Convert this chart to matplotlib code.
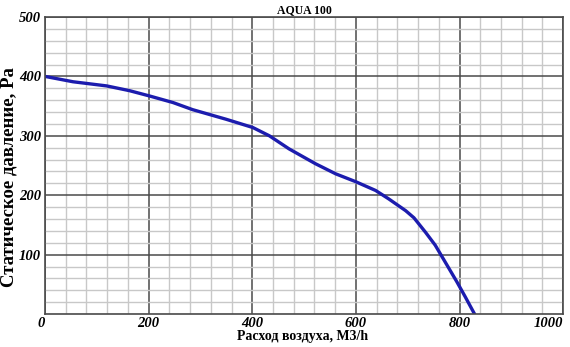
import matplotlib
matplotlib.use("Agg")
import matplotlib.pyplot as plt
from matplotlib.ticker import MultipleLocator

# Fan performance curve: air flow (m3/h) vs static pressure (Pa)
flow = [0, 54, 119, 163, 202, 247, 285, 349, 401, 433, 471, 522, 561, 599,
        638, 663, 696, 712, 734, 753, 772, 795, 811, 829]
pressure = [400, 391, 384, 376, 367, 356, 344, 328, 314, 300, 278, 253, 236, 223,
            208, 194, 174, 162, 138, 116, 88, 54, 29, 0]

x_ticks = [0, 200, 400, 600, 800, 1000]
y_ticks = [100, 200, 300, 400, 500]

title = "AQUA 100"
x_label = "Расход воздуха, M3/h"
y_label = "Статическое давление, Pa"

serif = ["Liberation Serif", "DejaVu Serif"]

fig = plt.figure(figsize=(5.7, 3.47), dpi=100)
ax = fig.add_axes([0.079, 0.095, 0.909, 0.856])

ax.set_xlim(0, 1000)
ax.set_ylim(0, 500)

ax.xaxis.set_minor_locator(MultipleLocator(40))
ax.yaxis.set_minor_locator(MultipleLocator(20))
ax.set_xticks(x_ticks)
ax.set_yticks(y_ticks)

ax.grid(which="minor", color="#c8c8c8", linewidth=1.0)
ax.grid(which="major", color="#4a4a4a", linewidth=1.1)
ax.set_axisbelow(True)

for s in ax.spines.values():
    s.set_color("#4a4a4a")
    s.set_linewidth(1.2)

ax.plot(flow, pressure, color="#1c1cae", linewidth=2.4,
        solid_capstyle="round", solid_joinstyle="round")

ax.tick_params(which="both", length=0)
ax.tick_params(axis="x", pad=2)
ax.tick_params(axis="y", pad=3)
ax.set_xticklabels([str(v) for v in x_ticks], fontfamily=serif,
                   fontweight="bold", fontstyle="italic", fontsize=10.5)
ax.set_yticklabels([str(v) for v in y_ticks], fontfamily=serif,
                   fontweight="bold", fontstyle="italic", fontsize=10.5)
labels = ax.get_xticklabels()
labels[0].set_horizontalalignment("right")
labels[-1].set_horizontalalignment("right")

ax.set_title(title, fontfamily=serif, fontweight="bold", fontsize=8.5, pad=3)
fig.text(0.53, 0.012, x_label, fontfamily=serif, fontweight="bold",
         fontsize=10, ha="center", va="bottom")
fig.text(0.016, 0.49, y_label, fontfamily=serif, fontweight="bold",
         fontsize=13.5, ha="center", va="center", rotation=90)

fig.savefig("out.png", dpi=100)
